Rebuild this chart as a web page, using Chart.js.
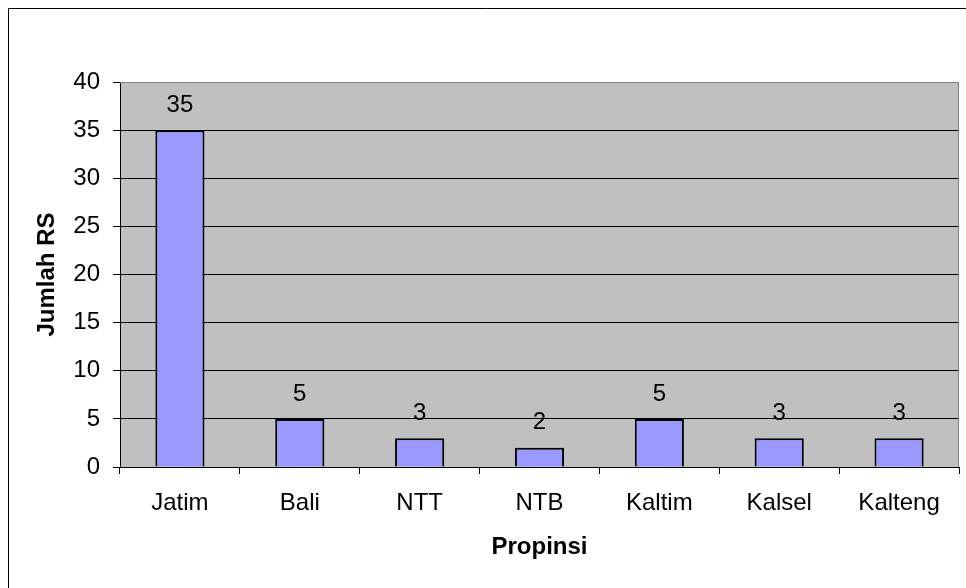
<!DOCTYPE html>
<html>
<head>
<meta charset="utf-8">
<script src="https://cdn.jsdelivr.net/npm/chart.js@4"></script>
<style>
  body { margin: 0; background: #fff; }
  #wrap { width: 966px; height: 588px; }
</style>
</head>
<body>
<div id="wrap"><canvas id="rsChart" width="966" height="588"></canvas></div>
<script>
const propinsi = ['Jatim', 'Bali', 'NTT', 'NTB', 'Kaltim', 'Kalsel', 'Kalteng'];
const jumlahRS = [35, 5, 3, 2, 5, 3, 3];
const yMin = 0, yMax = 40, yStep = 5;

Chart.defaults.font.family = '"Liberation Sans", Arial, sans-serif';
Chart.defaults.font.size = 24;
Chart.defaults.color = '#000';

// gray plot background + outer frame
const framePlugin = {
  id: 'frame',
  beforeDraw(chart) {
    const { ctx, chartArea: a } = chart;
    ctx.save();
    ctx.fillStyle = '#c0c0c0';
    ctx.fillRect(a.left, a.top, a.right - a.left, a.bottom - a.top);
    ctx.strokeStyle = '#000';
    ctx.lineWidth = 1;
    ctx.beginPath();
    ctx.moveTo(8.5, chart.height);
    ctx.lineTo(8.5, 8.5);
    ctx.lineTo(chart.width, 8.5);
    ctx.stroke();
    ctx.restore();
  },
  afterDraw(chart) {
    const { ctx, chartArea: a } = chart;
    ctx.save();
    ctx.strokeStyle = '#808080';
    ctx.lineWidth = 1;
    ctx.beginPath();
    ctx.moveTo(a.left, a.top + 0.5);
    ctx.lineTo(a.right - 0.5, a.top + 0.5);
    ctx.lineTo(a.right - 0.5, a.bottom);
    ctx.stroke();
    ctx.restore();
  }
};

// value labels above bars
const valueLabels = {
  id: 'valueLabels',
  afterDatasetsDraw(chart) {
    const { ctx } = chart;
    const meta = chart.getDatasetMeta(0);
    ctx.save();
    ctx.font = '24px "Liberation Sans", Arial, sans-serif';
    ctx.fillStyle = '#000';
    ctx.textAlign = 'center';
    ctx.textBaseline = 'middle';
    meta.data.forEach((bar, i) => {
      ctx.fillText(jumlahRS[i], bar.x, bar.y - 25);
    });
    ctx.restore();
  }
};

const ctx = document.getElementById('rsChart').getContext('2d');
new Chart(ctx, {
  type: 'bar',
  data: {
    labels: propinsi,
    datasets: [{
      data: jumlahRS,
      backgroundColor: '#9999ff',
      borderColor: '#000',
      borderWidth: 2,
      categoryPercentage: 1,
      barPercentage: 0.41
    }]
  },
  options: {
    responsive: false,
    animation: false,
    devicePixelRatio: 1,
    layout: { padding: { left: 0, top: 82, right: 7, bottom: 0 } },
    plugins: {
      legend: { display: false },
      tooltip: { enabled: false }
    },
    scales: {
      x: {
        grid: { drawOnChartArea: false, drawTicks: true, tickLength: 7, tickColor: '#000', offset: true },
        border: { color: '#000', width: 1 },
        ticks: { padding: 15, color: '#000' },
        title: { display: true, text: 'Propinsi', font: { weight: 'bold', size: 24 }, padding: { top: 0, bottom: 26 } },
        afterFit(s) { s.height = 121; }
      },
      y: {
        min: yMin,
        max: yMax,
        grid: {
          color: c => c.tick && c.tick.value === yMax ? '#808080' : '#000',
          tickColor: '#000',
          tickLength: 7,
          drawTicks: true
        },
        border: { color: '#000', width: 1 },
        ticks: { stepSize: yStep, padding: 13, color: '#000' },
        title: { display: true, text: 'Jumlah RS', font: { weight: 'bold', size: 24 }, padding: { top: 33, bottom: 0 } },
        afterFit(s) { s.width = 120; }
      }
    }
  },
  plugins: [framePlugin, valueLabels]
});
</script>
</body>
</html>
